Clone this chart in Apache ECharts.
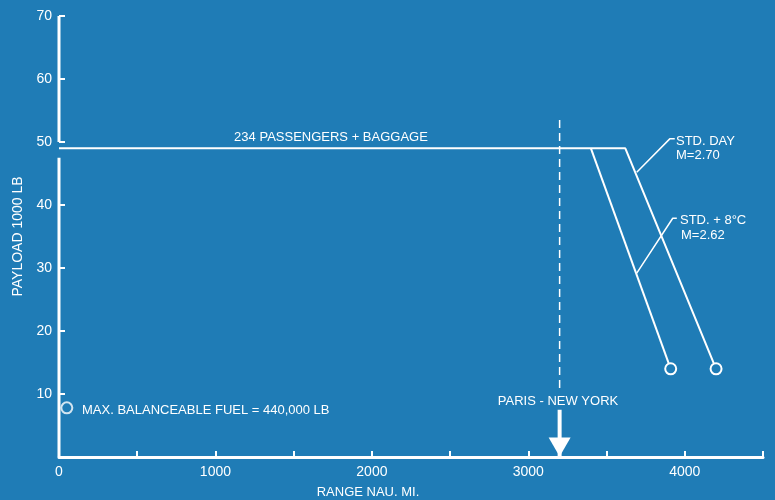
<!DOCTYPE html>
<html>
<head>
<meta charset="utf-8">
<script src="https://cdn.jsdelivr.net/npm/echarts@6/dist/echarts.min.js"></script>
<style>
  html, body { margin: 0; padding: 0; background: #1f7cb6; }
  #main { width: 775px; height: 500px; }
</style>
</head>
<body>
<div id="main"></div>
<script>
// payload / range points
const stdDay = [[0, 49], [3620, 49], [4200, 14]];
const stdHot = [[3400, 49], [3910, 14]];
const maxFuelPoint = [[50, 7.8]];
const parisNewYork = 3200;
const dashedSpan = [53.5, 10.6];
const arrowSpan = [7.5, 0];
// leader lines for the two curve labels
const dayLeader = [[3936, 50.5], [3904, 50.5], [3693, 45.2]];
const hotLeader = [[3949, 37.9], [3923, 37.9], [3693, 29.2]];
// broken y axis segments
const yAxisUpper = [[0, 50], [0, 70]];
const yAxisLower = [[0, 0], [0, 47.5]];

const BG = '#1f7cb6';
const FG = '#ffffff';
const FONT = '"Liberation Sans", Arial, sans-serif';

const chart = echarts.init(document.getElementById('main'));

function endCircle(points) {
  return points.map((p, i) => i === points.length - 1
    ? { value: p, symbol: 'circle', symbolSize: 11 }
    : { value: p, symbol: 'none' });
}

function plainLine(data, width, extra) {
  return Object.assign({
    type: 'line',
    data: data,
    symbol: 'none',
    silent: true,
    animation: false,
    lineStyle: { color: FG, width: width },
    itemStyle: { color: BG, borderColor: FG, borderWidth: 2 }
  }, extra || {});
}

function text(str, x, y, align) {
  return {
    type: 'text',
    x: x,
    y: y,
    style: {
      text: str,
      fill: FG,
      font: '13px ' + FONT,
      align: align || 'left',
      verticalAlign: 'middle'
    }
  };
}

const option = {
  backgroundColor: BG,
  animation: false,
  grid: { left: 59, right: 12, top: 16, bottom: 43 },
  xAxis: {
    type: 'value',
    min: 0,
    max: 4500,
    interval: 500,
    axisLine: { show: true, lineStyle: { color: FG, width: 3 } },
    axisTick: { show: true, inside: true, length: 6, lineStyle: { color: FG, width: 2 } },
    axisLabel: {
      color: FG,
      fontSize: 14,
      fontFamily: FONT,
      margin: 8,
      formatter: v => (v % 1000 === 0 ? String(v) : '')
    },
    splitLine: { show: false }
  },
  yAxis: {
    type: 'value',
    min: 0,
    max: 70,
    interval: 10,
    name: 'PAYLOAD 1000 LB',
    nameLocation: 'middle',
    nameGap: 31,
    nameTextStyle: { color: FG, fontSize: 14, fontFamily: FONT },
    axisLine: { show: false },
    axisTick: { show: true, inside: true, length: 6, lineStyle: { color: FG, width: 2 } },
    axisLabel: {
      color: FG,
      fontSize: 14,
      fontFamily: FONT,
      margin: 7,
      formatter: v => (v === 0 ? '' : String(v))
    },
    splitLine: { show: false }
  },
  graphic: [
    text('234 PASSENGERS + BAGGAGE', 331, 137, 'center'),
    text('STD. DAY', 676, 141),
    text('M=2.70', 676, 155),
    text('STD. + 8°C', 680, 220),
    text('M=2.62', 681, 235),
    text('PARIS - NEW YORK', 558, 401, 'center'),
    text('MAX. BALANCEABLE FUEL = 440,000 LB', 82, 410),
    text('RANGE NAU. MI.', 368, 492, 'center')
  ],
  series: [
    plainLine(yAxisUpper, 3),
    plainLine(yAxisLower, 3),
    plainLine(endCircle(stdDay), 2),
    plainLine(endCircle(stdHot), 2),
    plainLine([[parisNewYork, dashedSpan[0]], [parisNewYork, dashedSpan[1]]], 1.5, {
      lineStyle: { color: FG, width: 1.5, type: [8, 5] }
    }),
    plainLine([
      { value: [parisNewYork, arrowSpan[0]], symbol: 'none' },
      { value: [parisNewYork, arrowSpan[1]], symbol: 'triangle', symbolSize: [22, 19],
        symbolRotate: 180, symbolOffset: [0, -10], itemStyle: { color: FG, borderWidth: 0 } }
    ], 4),
    plainLine(dayLeader, 1.5),
    plainLine(hotLeader, 1.5),
    {
      type: 'scatter',
      data: maxFuelPoint,
      symbol: 'circle',
      symbolSize: 11,
      silent: true,
      itemStyle: { color: BG, borderColor: FG, borderWidth: 2 }
    }
  ]
};

chart.setOption(option);
window.addEventListener('resize', () => chart.resize());
</script>
</body>
</html>
